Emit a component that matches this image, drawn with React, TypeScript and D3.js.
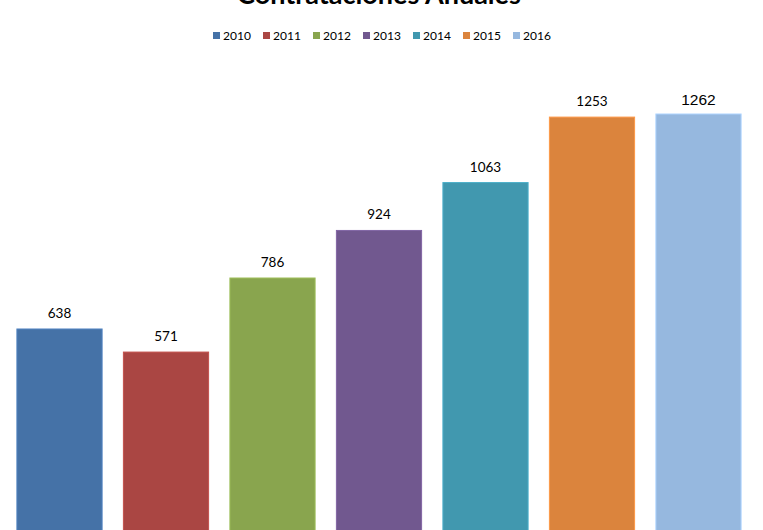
import React from "react";
import * as d3 from "d3";

const title = "Contrataciones Anuales";
const years = ["2010", "2011", "2012", "2013", "2014", "2015", "2016"];
const values = [638, 571, 786, 924, 1063, 1253, 1262];
const colors = ["#4572A7", "#AA4643", "#89A54E", "#71588F", "#4198AF", "#DB843D", "#96B8DF"];

const W = 763;
const H = 530;

export default function App() {
  const x = d3.scaleBand<string>().domain(years).range([6.25, 751.75]).paddingInner(0.2).paddingOuter(0.1);
  const y = d3.scaleLinear().domain([0, 1262]).range([548.8, 114]);
  const legendX = d3.scalePoint<string>().domain(years).range([213, 513]);

  return (
    <svg
      width={W}
      height={H}
      style={{ position: "fixed", left: 0, top: 0, background: "#fff" }}
      fontFamily="Lato, 'Open Sans', sans-serif"
    >
      <rect x={0} y={0} width={W} height={H} fill="#fff" />
      <text x={379} y={4} textAnchor="middle" fontSize={27} fontWeight="bold" fill="#000">
        {title}
      </text>
      {years.map((yr, i) => (
        <g key={"lg" + yr}>
          <rect x={legendX(yr)!} y={32} width={7} height={7} fill={colors[i]} />
          <text x={legendX(yr)! + 10} y={39.5} fontSize={12} fill="#000">
            {yr}
          </text>
        </g>
      ))}
      {years.map((yr, i) => (
        <g key={"b" + yr}>
          <rect
            x={x(yr)!}
            y={y(values[i])}
            width={x.bandwidth()}
            height={y(0) - y(values[i])}
            fill={colors[i]}
            stroke={d3.color(colors[i])!.brighter(0.4).toString()}
            strokeWidth={1}
          />
          <text
            x={x(yr)! + x.bandwidth() / 2}
            y={y(values[i]) - (i === 6 ? 9.5 : 11)}
            textAnchor="middle"
            fontSize={i === 6 ? 15.5 : 13.5}
            fontFamily={i === 6 ? "'Liberation Sans', Arial, sans-serif" : undefined}
            fill="#000"
          >
            {values[i]}
          </text>
        </g>
      ))}
    </svg>
  );
}
